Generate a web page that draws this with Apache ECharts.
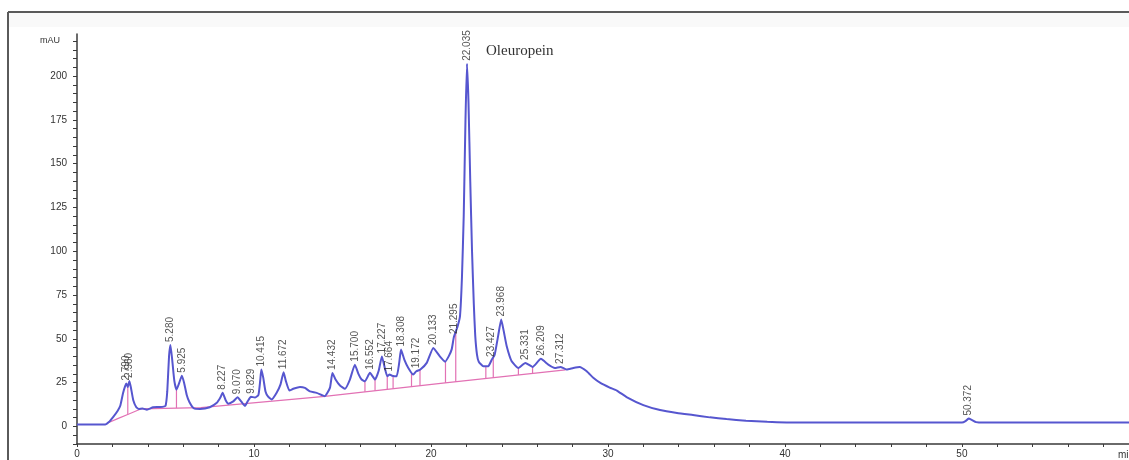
<!DOCTYPE html>
<html>
<head>
<meta charset="utf-8">
<script src="https://cdn.jsdelivr.net/npm/echarts@6/dist/echarts.min.js"></script>
<style>
html,body{margin:0;padding:0;background:#fff;}
#chart{width:1129px;height:460px;}
</style>
</head>
<body>
<div id="chart"></div>
<script>
// ---- Data ----
// Detector signal: [retention time (min), absorbance (mAU)]
var signalTimes = [0,1.6,1.8,2.05,2.3,2.45,2.6,2.72,2.79,2.87,2.96,3.05,3.18,3.35,3.5,3.7,3.95,4.3,4.7,5.0,5.1,5.2,5.28,5.38,5.5,5.62,5.78,5.925,6.05,6.2,6.35,6.6,6.95,7.5,7.9,8.1,8.227,8.4,8.55,8.83,9.07,9.3,9.49,9.65,9.829,10.05,10.25,10.35,10.415,10.52,10.65,10.8,11.0,11.28,11.5,11.672,11.8,12.0,12.22,12.6,12.88,13.16,13.54,14.0,14.29,14.432,14.6,14.86,15.14,15.42,15.7,15.9,16.08,16.27,16.552,16.84,17.05,17.227,17.4,17.53,17.664,17.8,18.06,18.2,18.308,18.5,18.72,19.0,19.172,19.4,19.76,20.133,20.5,20.8,21.0,21.17,21.295,21.5,21.64,21.75,21.85,21.95,22.035,22.12,22.22,22.32,22.42,22.5,22.6,22.7,22.96,23.24,23.427,23.6,23.8,23.968,24.1,24.28,24.56,24.94,25.331,25.74,26.209,26.63,27.0,27.312,27.66,28.04,28.4,28.8,29.17,29.55,30.1,30.5,31.05,32.0,32.94,33.9,34.8,35.76,36.7,37.8,39.0,40.1,42.0,50.0,50.2,50.372,50.55,50.8,51.2,59.44];
var signalValues = [1.2,1.2,2.5,5.5,9,12,19,23,24.5,22.5,26,22,15,11,10,10.2,9.6,11,11.1,11.8,20,40,46.5,38,26,21,25,29,25,18,14,10.4,10,11,13.5,16.5,19.2,15,13,14.3,16.7,14,11.8,14.5,17,16.5,18,26,32.5,28,20,17,15.4,19.2,24,31,26,20.5,21.5,22.6,22,20,19.2,17.3,22,30.5,27,23.4,21.5,26.8,35.3,30,26.8,25.8,30.6,26.8,32,40,33,28.7,29.6,29,28.7,36,43.9,38,33.4,29.6,31.5,32.5,36.3,44.8,40,37,40,44,51,57,63,85,120,175,207,185,140,100,70,52,41,37,34.4,34.4,38,41,52,61,55,45.8,37.2,33.4,36.3,34,38.6,35.3,33.4,34,32.5,33.4,34,31.5,27.8,25,22.2,20.5,16.8,12.2,9.4,7.7,6.5,5.2,4.2,3.3,2.7,2.3,2.2,2.2,3,4.5,3.8,2.5,2.2,2.2];

// Integration baseline (pink)
var baselineTimes = [1.7,2.3,2.9,3.6,7.0,14.0,20.8,27.6];
var baselineValues = [1.8,4.5,7.0,10.0,10.8,17.2,24.9,32.3];

// Peak-separation drop lines (retention times)
var dropTimes = [2.87,5.62,16.27,16.84,17.53,17.86,18.9,19.38,20.82,21.4,23.1,23.52,24.94,25.74];

// Labelled peaks
var peakLabels = ["2.790","2.960","5.280","5.925","8.227","9.070","9.829","10.415","11.672","14.432","15.700","16.552","17.227","17.664","18.308","19.172","20.133","21.295","22.035","23.427","23.968","25.331","26.209","27.312","50.372"];
var peakTimes = [2.79,2.96,5.28,5.925,8.227,9.07,9.829,10.415,11.672,14.432,15.7,16.552,17.227,17.664,18.308,19.172,20.133,21.295,22.035,23.427,23.968,25.331,26.209,27.312,50.372];
var peakHeights = [24.5,26,46.5,29,19.2,16.7,17,32.5,31,30.5,35.3,30.6,40,29.6,43.9,31.5,44.8,51,207,38,61,36.3,38.6,34,4.5];

// Annotation
var annotationText = "Oleuropein";
var annotationPeak = 18; // index into peak arrays

// Axis ticks
var yLabelStep = 25;
var xLabelStep = 10;

// ---- helpers ----
function zip(a, b){ return a.map(function(v,i){ return [v, b[i]]; }); }
function interp(ts, vs, t){
  if (t <= ts[0]) return vs[0];
  for (var i=1;i<ts.length;i++){
    if (t <= ts[i]){
      var f = (t - ts[i-1])/(ts[i]-ts[i-1]);
      return vs[i-1] + f*(vs[i]-vs[i-1]);
    }
  }
  return vs[vs.length-1];
}

var chart = echarts.init(document.getElementById('chart'), null, {renderer:'canvas'});

var option = {
  backgroundColor: '#ffffff',
  animation: false,
  grid: { left: 77, right: 0, top: 34, bottom: 16 },
  xAxis: {
    type: 'value', min: 0, max: 59.44, interval: 2,
    axisLine: { show: true, onZero: false, lineStyle: { color: '#3a3a3a', width: 1.5 } },
    axisTick: { show: true, length: 3, lineStyle: { color: '#3a3a3a' } },
    splitLine: { show: false },
    axisLabel: {
      color: '#333', fontSize: 10, fontFamily: 'Liberation Sans, Arial, sans-serif', margin: 5,
      showMaxLabel: false,
      formatter: function(v){ return (Math.abs(v % xLabelStep) < 1e-9) ? String(v) : ''; }
    }
  },
  yAxis: {
    type: 'value', min: -10, max: 224, interval: 5,
    axisLine: { show: true, onZero: false, lineStyle: { color: '#3a3a3a', width: 1.5 } },
    axisTick: { show: true, length: 4, lineStyle: { color: '#3a3a3a' } },
    splitLine: { show: false },
    axisLabel: {
      color: '#333', fontSize: 10, fontFamily: 'Liberation Sans, Arial, sans-serif', margin: 10,
      showMaxLabel: false,
      formatter: function(v){ return (Math.abs(v % yLabelStep) < 1e-9) ? String(v) : ''; }
    }
  },
  graphic: [
    { type: 'rect', shape: { x: 8, y: 13, width: 1121, height: 14 }, style: { fill: '#f9f9f9' }, silent: true, z: -1 },
    { type: 'line', shape: { x1: 8, y1: 12, x2: 1129, y2: 12 }, style: { stroke: '#5a5a5a', lineWidth: 2 } },
    { type: 'line', shape: { x1: 8, y1: 12, x2: 8, y2: 460 }, style: { stroke: '#5a5a5a', lineWidth: 2 } },
    { type: 'text', left: 40, top: 36, style: { text: 'mAU', fill: '#333', font: '9px "Liberation Sans", Arial, sans-serif' } },
    { type: 'text', left: 1118, top: 450, style: { text: 'min', fill: '#333', font: '10px "Liberation Sans", Arial, sans-serif' } }
  ],
  series: [
    {
      name: 'baseline', type: 'line', data: zip(baselineTimes, baselineValues),
      showSymbol: false, symbol: 'none', silent: true,
      lineStyle: { color: '#e271b4', width: 1.2 }, z: 2
    },
    {
      name: 'drops', type: 'custom', silent: true, z: 2,
      data: dropTimes.map(function(t){ return [t]; }),
      renderItem: function(params, api){
        var t = api.value(0);
        var top = interp(signalTimes, signalValues, t);
        var base = interp(baselineTimes, baselineValues, t);
        var p1 = api.coord([t, base]);
        var p2 = api.coord([t, top]);
        return { type: 'line', shape: { x1: p1[0], y1: p1[1], x2: p2[0], y2: p2[1] },
                 style: { stroke: '#e271b4', lineWidth: 1.2 } };
      }
    },
    {
      name: 'signal', type: 'line', data: zip(signalTimes, signalValues),
      showSymbol: false, symbol: 'none', smooth: 0.15,
      lineStyle: { color: '#5656cf', width: 2 }, z: 3
    },
    {
      name: 'peaks', type: 'scatter', z: 4,
      data: peakTimes.map(function(t,i){ return [t, peakHeights[i], peakLabels[i]]; }),
      symbolSize: 0,
      label: {
        show: true, position: 'top', distance: 3, rotate: 90,
        align: 'left', verticalAlign: 'middle',
        color: '#2a2a2a', fontSize: 10, fontFamily: 'Liberation Sans, Arial, sans-serif',
        formatter: function(p){ return p.value[2]; }
      },
      markPoint: {
        symbol: 'circle', symbolSize: 0, silent: true,
        data: [{ coord: [peakTimes[annotationPeak], peakHeights[annotationPeak]] }],
        label: {
          show: true, position: 'inside', align: 'left', verticalAlign: 'middle',
          offset: [19, -13],
          formatter: function(){ return annotationText; },
          color: '#333', fontSize: 15,
          fontFamily: '"Liberation Serif", "DejaVu Serif", serif'
        }
      }
    }
  ]
};
chart.setOption(option);
</script>
</body>
</html>
